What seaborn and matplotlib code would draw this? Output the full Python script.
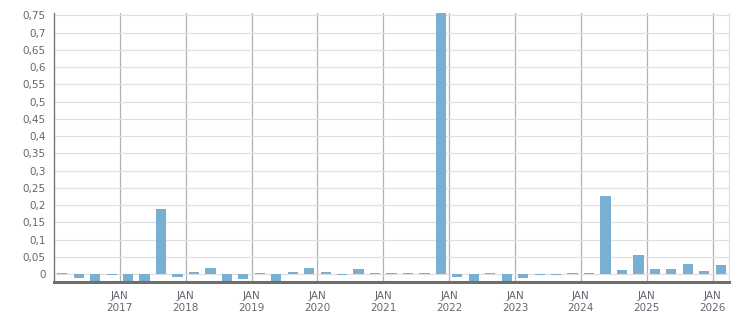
import matplotlib
matplotlib.use("Agg")
import matplotlib.pyplot as plt
import seaborn as sns
import numpy as np
import pandas as pd
from matplotlib.ticker import FixedLocator, FuncFormatter

# Quarterly data, Q1 2016 .. Q1 2026
years = [2016]*4 + [2017]*4 + [2018]*4 + [2019]*4 + [2020]*4 + [2021]*4 + \
        [2022]*4 + [2023]*4 + [2024]*4 + [2025]*4 + [2026]
quarters = [1, 2, 3, 4]*10 + [1]
values = [0.003, -0.012, -0.02, -0.002,
          -0.02, -0.02, 0.188, -0.008,
          0.007, 0.018, -0.02, -0.015,
          0.003, -0.02, 0.007, 0.018,
          0.007, -0.003, 0.015, 0.004,
          0.004, 0.004, 0.004, 0.76,
          -0.008, -0.02, 0.004, -0.02,
          -0.012, -0.002, -0.002, 0.003,
          0.003, 0.227, 0.012, 0.056,
          0.015, 0.015, 0.030, 0.010,
          0.027]
year_ticks = list(range(2017, 2027))
ytick_vals = [round(0.05*i, 2) for i in range(16)]

pos = [y + (q - 1)/4 + 0.125 for y, q in zip(years, quarters)]
df = pd.DataFrame({"pos": pos, "value": values})

sns.set_style("white")
plt.rcParams['font.family'] = ['DejaVu Sans']

fig = plt.figure(figsize=(7.51, 3.13), dpi=100)
ax = fig.add_axes([54/751, 31/313, (729-54)/751, (300-31)/313])

sns.barplot(data=df, x="pos", y="value", native_scale=True, width=0.62,
            color="#78b0d3", saturation=1, errorbar=None, ax=ax, zorder=3,
            linewidth=0)

ax.set_xlim(2016.0, 2026.25)
ax.set_ylim(-0.023, 0.757)

text_col = "#656572"
ax.yaxis.set_major_locator(FixedLocator(ytick_vals))
ax.yaxis.set_major_formatter(FuncFormatter(
    lambda v, p: ("%g" % round(v, 2)).replace(".", ",")))
ax.xaxis.set_major_locator(FixedLocator(year_ticks))
ax.xaxis.set_major_formatter(FuncFormatter(lambda v, p: "JAN\n%d" % int(round(v))))
ax.xaxis.set_minor_locator(FixedLocator([2016 + i*0.25 for i in range(42)]))

ax.grid(axis="y", color="#e0e0e0", linewidth=0.9, zorder=0)
ax.grid(axis="x", which="major", color="#b2b2b2", linewidth=0.9, zorder=1)
ax.set_axisbelow(True)

ax.tick_params(axis="y", which="major", length=4, width=0.9, color="#777777",
               labelsize=7.5, labelcolor=text_col, pad=2)
ax.tick_params(axis="x", which="major", length=4, width=0.9, color="#aaaaaa",
               labelsize=7.5, labelcolor=text_col, pad=2.5)
ax.tick_params(axis="x", which="minor", length=4, width=0.9, color="#777777")

ax.spines["top"].set_visible(False)
ax.spines["right"].set_color("#e0e0e0")
ax.spines["right"].set_linewidth(0.9)
ax.spines["left"].set_color("#777777")
ax.spines["left"].set_linewidth(1.0)
ax.spines["bottom"].set_color("#6e6e6e")
ax.spines["bottom"].set_linewidth(2.2)
ax.spines["bottom"].set_zorder(4)

ax.set_xlabel("")
ax.set_ylabel("")
for lbl in ax.get_xticklabels():
    lbl.set_linespacing(1.3)

fig.savefig("out.png", dpi=100)
